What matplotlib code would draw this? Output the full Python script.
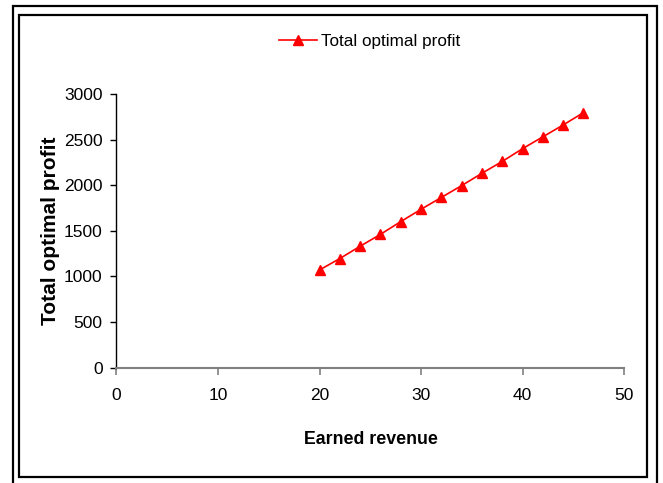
import matplotlib
matplotlib.use("Agg")
import matplotlib.pyplot as plt
from matplotlib.patches import Rectangle

# Data
earned_revenue = [20, 22, 24, 26, 28, 30, 32, 34, 36, 38, 40, 42, 44, 46]
total_optimal_profit = [1070, 1195, 1330, 1460, 1600, 1735, 1865, 1995, 2130, 2260, 2400, 2530, 2660, 2795]
x_ticks = [0, 10, 20, 30, 40, 50]
y_ticks = [0, 500, 1000, 1500, 2000, 2500, 3000]
series_name = "Total optimal profit"
x_label = "Earned revenue"
y_label = "Total optimal profit"

plt.rcParams['font.family'] = ['Liberation Sans', 'DejaVu Sans']

W, H = 663, 483
fig = plt.figure(figsize=(W / 100, H / 100), dpi=100)
fig.patch.set_facecolor('white')

ax = fig.add_axes([116.5 / W, 1 - 367.5 / H, (624 - 116.5) / W, (367.5 - 94) / H])
ax.plot(earned_revenue, total_optimal_profit, color='#FF0000', linewidth=1.2,
        marker='^', markersize=7.5, markerfacecolor='#FF0000', markeredgecolor='#FF0000',
        label=series_name)

ax.set_xlim(0, 50)
ax.set_ylim(0, 3000)
ax.set_xticks(x_ticks)
ax.set_yticks(y_ticks)
ax.tick_params(axis='both', direction='out', labelsize=12.5, colors='black')
ax.tick_params(axis='x', length=5, width=1.2, pad=10, color='#808080')
ax.tick_params(axis='y', length=4, width=1.0, pad=6, color='black')
ax.yaxis.get_major_ticks()[0].tick1line.set_color('#808080')

for s in ['top', 'right']:
    ax.spines[s].set_visible(False)
ax.spines['left'].set_color('black')
ax.spines['left'].set_linewidth(1.0)
ax.spines['bottom'].set_color('#808080')
ax.spines['bottom'].set_linewidth(1.5)

ax.set_xlabel(x_label, fontsize=12.8, fontweight='bold')
ax.xaxis.set_label_coords(0.502, -0.265)
ax.xaxis.label.set_va('center')
ax.set_ylabel(y_label, fontsize=15, fontweight='bold')
ax.yaxis.set_label_coords(-0.131, 0.5)
ax.yaxis.label.set_va('center')

leg = fig.legend(loc='center', bbox_to_anchor=(369.5 / W, 1 - 41.5 / H), frameon=False,
                 fontsize=12.3, handlelength=2.2, handletextpad=0.25, borderpad=0)

# Figure frames
outer = Rectangle((12.5 / W, 1 - 490 / H), (657.3 - 12.5) / W, (490 - 5.8) / H,
                  transform=fig.transFigure, fill=False, edgecolor='black', linewidth=1.6,
                  clip_on=False)
inner = Rectangle((18.8 / W, 1 - 477.3 / H), (647.3 - 18.8) / W, (477.3 - 14.8) / H,
                  transform=fig.transFigure, fill=False, edgecolor='black', linewidth=1.6,
                  clip_on=False)
fig.patches.extend([outer, inner])

fig.savefig('out.png', dpi=100)
